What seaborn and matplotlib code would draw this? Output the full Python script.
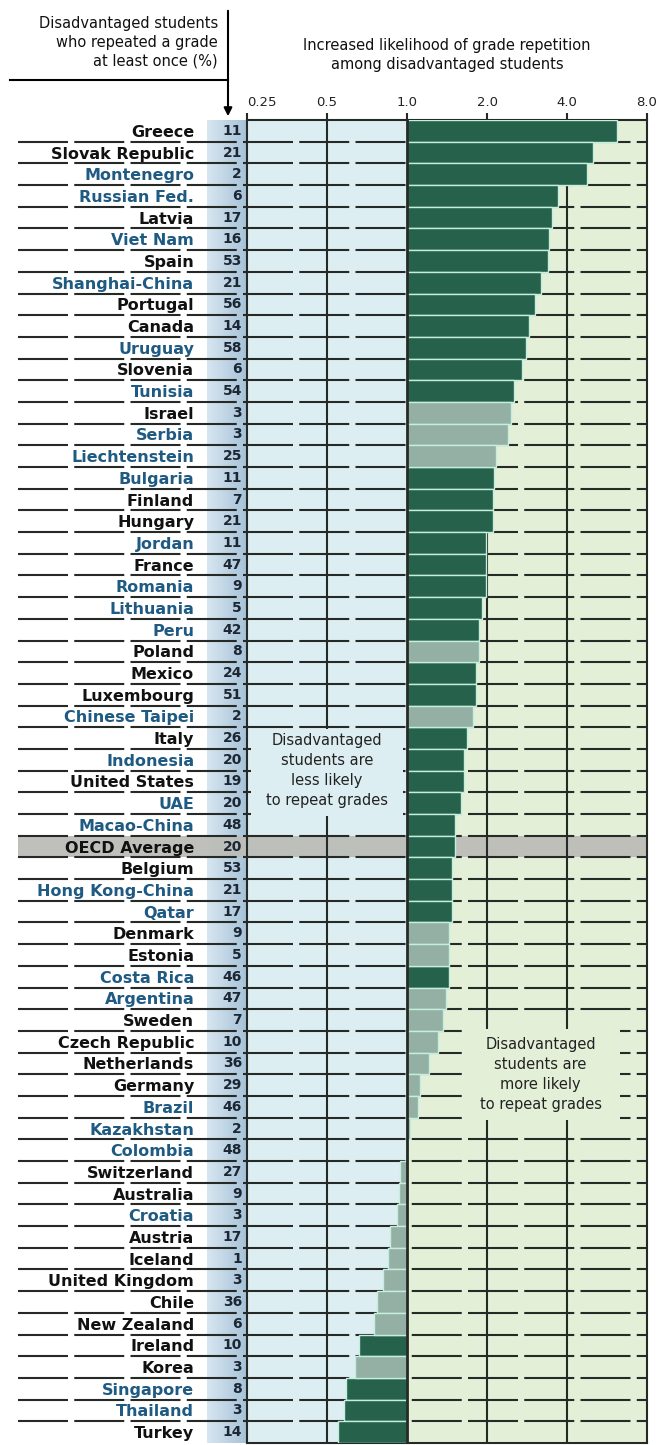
import numpy as np
import pandas as pd
import matplotlib.pyplot as plt
import seaborn as sns
from matplotlib.patches import Rectangle
from matplotlib.lines import Line2D
from matplotlib.colors import LinearSegmentedColormap
import matplotlib.transforms as mtransforms

countries = ['Greece', 'Slovak Republic', 'Montenegro', 'Russian Fed.', 'Latvia', 'Viet Nam', 'Spain',
             'Shanghai-China', 'Portugal', 'Canada', 'Uruguay', 'Slovenia', 'Tunisia', 'Israel', 'Serbia',
             'Liechtenstein', 'Bulgaria', 'Finland', 'Hungary', 'Jordan', 'France', 'Romania', 'Lithuania',
             'Peru', 'Poland', 'Mexico', 'Luxembourg', 'Chinese Taipei', 'Italy', 'Indonesia', 'United States',
             'UAE', 'Macao-China', 'OECD Average', 'Belgium', 'Hong Kong-China', 'Qatar', 'Denmark', 'Estonia',
             'Costa Rica', 'Argentina', 'Sweden', 'Czech Republic', 'Netherlands', 'Germany', 'Brazil',
             'Kazakhstan', 'Colombia', 'Switzerland', 'Australia', 'Croatia', 'Austria', 'Iceland',
             'United Kingdom', 'Chile', 'New Zealand', 'Ireland', 'Korea', 'Singapore', 'Thailand', 'Turkey']

repeated_pct = [11, 21, 2, 6, 17, 16, 53, 21, 56, 14, 58, 6, 54, 3, 3, 25, 11, 7, 21, 11, 47, 9, 5, 42, 8, 24,
                51, 2, 26, 20, 19, 20, 48, 20, 53, 21, 17, 9, 5, 46, 47, 7, 10, 36, 29, 46, 2, 48, 27, 9, 3, 17,
                1, 3, 36, 6, 10, 3, 8, 3, 14]

odds_ratio = [6.15, 5.0, 4.77, 3.69, 3.50, 3.43, 3.40, 3.18, 3.02, 2.87, 2.80, 2.72, 2.52, 2.46, 2.39, 2.16,
              2.12, 2.11, 2.11, 1.99, 1.99, 1.98, 1.91, 1.87, 1.87, 1.82, 1.82, 1.77, 1.68, 1.64, 1.64, 1.59,
              1.52, 1.52, 1.48, 1.48, 1.48, 1.44, 1.44, 1.44, 1.40, 1.37, 1.31, 1.21, 1.12, 1.10, 1.03, 0.99,
              0.94, 0.93, 0.915, 0.86, 0.85, 0.81, 0.77, 0.75, 0.66, 0.64, 0.59, 0.58, 0.55]

not_significant = ['Israel', 'Serbia', 'Liechtenstein', 'Poland', 'Chinese Taipei', 'Denmark', 'Estonia',
                   'Argentina', 'Sweden', 'Czech Republic', 'Netherlands', 'Germany', 'Brazil', 'Kazakhstan',
                   'Colombia', 'Switzerland', 'Australia', 'Croatia', 'Austria', 'Iceland', 'United Kingdom',
                   'Chile', 'New Zealand', 'Korea']

partners = ['Montenegro', 'Russian Fed.', 'Viet Nam', 'Shanghai-China', 'Uruguay', 'Tunisia', 'Serbia',
            'Liechtenstein', 'Bulgaria', 'Jordan', 'Romania', 'Lithuania', 'Peru', 'Chinese Taipei', 'Indonesia',
            'UAE', 'Macao-China', 'Hong Kong-China', 'Qatar', 'Costa Rica', 'Argentina', 'Brazil', 'Kazakhstan',
            'Colombia', 'Croatia', 'Singapore', 'Thailand']

tick_values = [0.25, 0.5, 1.0, 2.0, 4.0, 8.0]
tick_labels = ['0.25', '0.5', '1.0', '2.0', '4.0', '8.0']

W, H = 663, 1445
dark_green = '#1b6b4e'
light_green = '#8fb4a3'
bg_left = '#ddeef2'
bg_right = '#e4efd8'
line_col = '#262a26'
blue_txt = '#1f5a82'


def fx(px):
    return px / W


def fy(py):
    return 1 - py / H


df = pd.DataFrame({'country': countries, 'pct': repeated_pct, 'ratio': odds_ratio})
df['log_ratio'] = np.log2(df['ratio'])
df['sig'] = np.where(df['country'].isin(not_significant), 'ns', 'sig')

plt.rcParams['font.family'] = ['DejaVu Sans']
fig = plt.figure(figsize=(W / 100, H / 100), dpi=100)

top, bottom, left, right = 120, 1443, 247, 647
ax = fig.add_axes([fx(left), fy(bottom), fx(right) - fx(left), (bottom - top) / H])
ax.set_zorder(2)

# percentage column band
band_ax = fig.add_axes([fx(207), fy(bottom), fx(247) - fx(207), (bottom - top) / H])
band_ax.set_zorder(1)
band_cmap = LinearSegmentedColormap.from_list('band', ['#d7e6f0', '#a6c2d8'])
band_ax.imshow(np.linspace(0, 1, 50).reshape(1, -1), aspect='auto', cmap=band_cmap)
band_ax.axis('off')

n = len(countries)
ax.axvspan(-2, 0, color=bg_left, zorder=0)
ax.axvspan(0, 3, color=bg_right, zorder=0)

blend = mtransforms.blended_transform_factory(ax.transAxes, ax.transData)
oecd_idx = countries.index('OECD Average')
ax.add_patch(Rectangle((-(left - 18) / 400, oecd_idx - 0.5), 1 + (left - 18) / 400, 1.0,
                       transform=blend, facecolor='#bcbdb8', edgecolor='none', alpha=0.95,
                       zorder=1, clip_on=False))

# dashed row separators
for i in range(n - 1):
    ax.add_line(Line2D([-(left - 18) / 400, 1], [i + 0.5, i + 0.5], transform=blend, color=line_col,
                       lw=1.5, dashes=(24, 3), zorder=2, clip_on=False))

for v in [-1, 1, 2]:
    ax.axvline(v, color=line_col, lw=1.5, zorder=2)

# annotation boxes
ax.add_patch(Rectangle((-1.95, 27.6), 1.9, 4.0, facecolor=bg_left, edgecolor='none', zorder=2.5))
ax.add_patch(Rectangle((0.69, 41.4), 1.97, 4.2, facecolor=bg_right, edgecolor='none', zorder=2.5))

sns.barplot(data=df, x='log_ratio', y='country', hue='sig', palette={'sig': dark_green, 'ns': light_green},
            dodge=False, width=1.0, orient='h', edgecolor='#c4efdf', linewidth=1.0, legend=False,
            ax=ax, zorder=3)

ax.axvline(0, color=line_col, lw=2, zorder=4)

ax.text(-1, 29.5, 'Disadvantaged\nstudents are\nless likely\nto repeat grades', ha='center', va='center',
        fontsize=10.5, color='#222222', linespacing=1.42, zorder=5)
ax.text(1.67, 43.5, 'Disadvantaged\nstudents are\nmore likely\nto repeat grades', ha='center', va='center',
        fontsize=10.5, color='#222222', linespacing=1.42, zorder=5)

ax.set_xlim(-2, 3)
ax.set_ylim(n - 0.5, -0.5)
ax.set_xlabel(None)
ax.set_ylabel(None)

ax.xaxis.tick_top()
ax.set_xticks(np.log2(tick_values))
ax.set_xticklabels(tick_labels, fontsize=9.5, color='#222222')
ax.get_xticklabels()[0].set_horizontalalignment('left')
ax.tick_params(axis='x', length=5, width=1.5, color=line_col, pad=3)

ax.set_yticks(range(n))
ax.set_yticklabels(countries)
ax.tick_params(axis='y', length=0, pad=38)
for lab in ax.get_yticklabels():
    lab.set_fontsize(11.5)
    lab.set_fontweight('bold')
    lab.set_color(blue_txt if lab.get_text() in partners else '#111111')

for i, p in enumerate(repeated_pct):
    ax.text(-5 / 400, i, str(p), transform=blend, ha='right', va='center', fontsize=10,
            fontweight='bold', color='#1c2733', zorder=5, clip_on=False)

for s in ax.spines.values():
    s.set_color(line_col)
    s.set_linewidth(1.5)

# header
fig.text(fx(218), fy(42), 'Disadvantaged students\nwho repeated a grade\nat least once (%)', ha='right',
         va='center', fontsize=10.5, color='#111111', linespacing=1.3)
fig.add_artist(Line2D([fx(10), fx(228)], [fy(80), fy(80)], color='black', lw=1.5))
ax.annotate('', xy=(fx(228), fy(119)), xytext=(fx(228), fy(8)), xycoords='figure fraction',
            textcoords='figure fraction',
            arrowprops=dict(arrowstyle='-|>', color='black', lw=1.5, mutation_scale=12))
fig.text(fx(447), fy(55), 'Increased likelihood of grade repetition\namong disadvantaged students',
         ha='center', va='center', fontsize=10.5, color='#111111', linespacing=1.3)

fig.savefig('out.png', dpi=100)
